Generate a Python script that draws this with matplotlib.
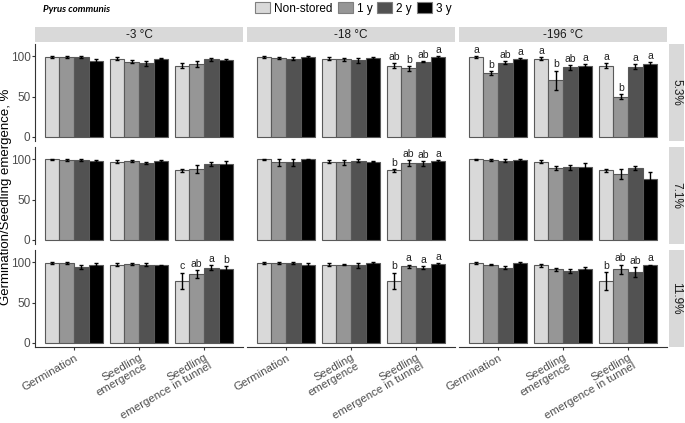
import numpy as np
import matplotlib
matplotlib.use("Agg")
import matplotlib.pyplot as plt
from matplotlib.patches import Patch

plt.rcParams["font.family"] = ["Liberation Sans", "DejaVu Sans"]

temps = ["-3 °C", "-18 °C", "-196 °C"]
moistures = ["5.3%", "7.1%", "11.9%"]
measures = ["Germination", "Seedling\nemergence", "Seedling\nemergence in tunnel"]
storages = ["Non-stored", "1 y", "2 y", "3 y"]
colors = ["#d9d9d9", "#969696", "#525252", "#000000"]

# means[temp][measure][storage]
mean_5_3 = [
    [[99, 99, 99, 94], [97, 93, 91, 97], [88, 90, 96, 95]],
    [[99, 98, 97, 99], [97, 96, 95, 98], [88, 85, 93, 99]],
    [[99, 79, 92, 96], [97, 70, 86, 88], [88, 50, 87, 90]],
]
se_5_3 = [
    [[1, 1, 1, 3], [2, 2, 3, 1], [3, 4, 2, 2]],
    [[1, 1, 2, 1], [2, 2, 3, 1], [3, 3, 0.5, 1]],
    [[1, 2, 2, 2], [2, 12, 3, 2], [3, 3, 3, 3]],
]
letters_5_3 = [
    [None, None, None],
    [None, None, ["ab", "b", "ab", "a"]],
    [["a", "b", "ab", "a"], ["a", "b", "ab", "a"], ["a", "b", "a", "a"]],
]

mean_7_1 = [
    [[100, 99, 99, 98], [97, 98, 95, 98], [86, 88, 94, 94]],
    [[100, 96, 96, 100], [97, 96, 98, 97], [86, 95, 95, 98]],
    [[100, 99, 98, 99], [97, 89, 90, 90], [86, 82, 89, 76]],
]
se_7_1 = [
    [[0.5, 1, 1, 1.5], [2, 1, 1, 1], [2, 5, 2, 4]],
    [[0.5, 4, 4, 0.5], [2, 3, 2, 0.5], [2, 4, 3, 1]],
    [[0.5, 1, 2, 1], [2, 3, 3, 5], [2, 6, 2, 8]],
]
letters_7_1 = [
    [None, None, None],
    [None, None, ["b", "ab", "ab", "a"]],
    [None, None, None],
]

mean_11_9 = [
    [[99, 99, 94, 97], [97, 98, 97, 96], [77, 85, 93, 91]],
    [[99, 99, 99, 97], [97, 97, 96, 99], [77, 95, 93, 98]],
    [[99, 97, 93, 99], [96, 91, 89, 92], [77, 91, 88, 96]],
]
se_11_9 = [
    [[1.5, 1, 3, 1.5], [2, 1, 2, 1], [10, 5, 3, 4]],
    [[1, 1, 1, 2], [2, 0.5, 3, 1], [10, 2, 2, 1]],
    [[1, 1, 2, 1], [2, 2, 3, 2], [11, 6, 6, 1]],
]
letters_11_9 = [
    [None, None, ["c", "ab", "a", "b"]],
    [None, None, ["b", "a", "a", "a"]],
    [None, None, ["b", "ab", "ab", "a"]],
]

means = [mean_5_3, mean_7_1, mean_11_9]
ses = [se_5_3, se_7_1, se_11_9]
letters = [letters_5_3, letters_7_1, letters_11_9]

W, H = 685, 423
fig = plt.figure(figsize=(W / 100, H / 100), dpi=100)

def px_axes(x0, y0, x1, y1):
    return fig.add_axes([x0 / W, 1 - y1 / H, (x1 - x0) / W, (y1 - y0) / H])

col_x = [(35, 243), (247, 455), (459, 667)]
row_y = [(44, 141), (147, 244), (250, 347)]
bar_w = 0.225
offsets = (np.arange(4) - 1.5) * bar_w
axis_col = "#333333"
tick_col = "#4d4d4d"

for r in range(3):
    for c in range(3):
        ax = px_axes(col_x[c][0], row_y[r][0], col_x[c][1], row_y[r][1])
        for s in range(4):
            vals = [means[r][c][m][s] for m in range(3)]
            errs = [ses[r][c][m][s] for m in range(3)]
            xs = np.arange(1, 4) + offsets[s]
            ax.bar(xs, vals, width=bar_w, color=colors[s], edgecolor="#595959",
                   linewidth=0.8, zorder=2)
            ax.errorbar(xs, vals, yerr=errs, fmt="none", ecolor="black",
                        elinewidth=1.0, capsize=1.3, capthick=1.0, zorder=3)
        for m in range(3):
            lab = letters[r][c][m]
            if lab is None:
                continue
            for s in range(4):
                top = means[r][c][m][s] + ses[r][c][m][s]
                ax.text(m + 1 + offsets[s], top + 1.5, lab[s], ha="center", va="bottom",
                        fontsize=7.5, color="#222222")
        ax.set_xlim(0.4, 3.6)
        ax.set_ylim(-5, 115)
        for sp in ["top", "right"]:
            ax.spines[sp].set_visible(False)
        ax.spines["left"].set_visible(c == 0)
        ax.spines["bottom"].set_visible(r == 2)
        ax.spines["left"].set_color(axis_col)
        ax.spines["bottom"].set_color(axis_col)
        ax.set_yticks([0, 50, 100])
        ax.set_xticks([1, 2, 3])
        if c == 0:
            ax.tick_params(axis="y", length=2.2, color=axis_col, labelsize=8.5,
                           labelcolor=tick_col, pad=1)
        else:
            ax.tick_params(axis="y", left=False, labelleft=False)
        if r == 2:
            ax.tick_params(axis="x", length=2.5, color=axis_col, pad=1.5)
            ax.set_xticklabels(measures, rotation=30, ha="right", va="top",
                               rotation_mode="anchor", fontsize=8.2, color=tick_col,
                               multialignment="right", linespacing=0.95)
        else:
            ax.tick_params(axis="x", bottom=False, labelbottom=False)

        if r == 0:
            sx = px_axes(col_x[c][0], 27, col_x[c][1], 42)
            sx.set_facecolor("#d9d9d9")
            sx.set_xticks([])
            sx.set_yticks([])
            for sp in sx.spines.values():
                sp.set_visible(False)
            sx.text(0.5, 0.5, temps[c], ha="center", va="center", fontsize=8.5,
                    color="#1a1a1a", transform=sx.transAxes)
    sy = px_axes(669, row_y[r][0], 684, row_y[r][1])
    sy.set_facecolor("#d9d9d9")
    sy.set_xticks([])
    sy.set_yticks([])
    for sp in sy.spines.values():
        sp.set_visible(False)
    sy.text(0.5, 0.5, moistures[r], ha="center", va="center", fontsize=8.5,
            color="#1a1a1a", rotation=-90, transform=sy.transAxes)

fig.text(6 / W, 1 - 197 / H, "Germination/Seedling emergence, %", rotation=90,
         ha="center", va="center", fontsize=9.5)
fig.text(43 / W, 1 - 10 / H, "Pyrus communis", fontsize=7, fontweight="bold",
         fontstyle="italic", ha="left", va="center", family=["Lato", "DejaVu Sans"])

handles = [Patch(facecolor=colors[i], edgecolor="#7f7f7f", linewidth=0.8) for i in range(4)]
fig.legend(handles, storages, loc="center", bbox_to_anchor=(353.5 / W, 1 - 8.5 / H),
           ncol=4, frameon=False, fontsize=8.5, handlelength=1.27, handleheight=1.1,
           handletextpad=0.34, columnspacing=0.42, borderpad=0, borderaxespad=0)

fig.savefig("out.png", dpi=100)
